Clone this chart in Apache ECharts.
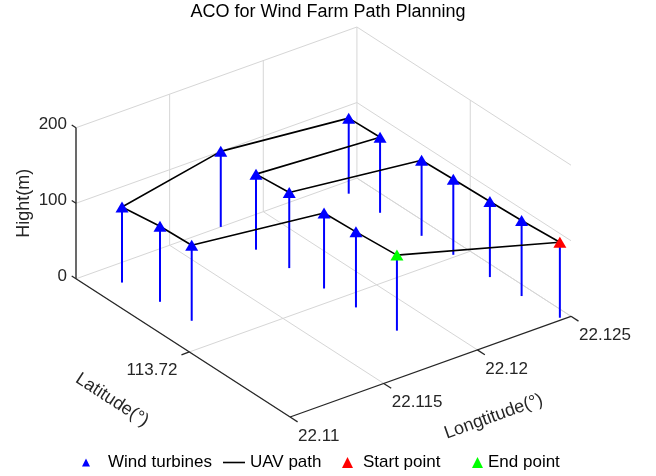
<!DOCTYPE html>
<html>
<head>
<meta charset="utf-8">
<script src="https://cdn.jsdelivr.net/npm/echarts@6/dist/echarts.min.js"></script>
<style>
  html, body { margin: 0; padding: 0; background: #ffffff; }
  #chart { width: 656px; height: 476px; }
</style>
</head>
<body>
<div id="chart"></div>
<script>
// Wind turbine sites (degrees) and hub heights (m); index 0 is the start, 15 the end
const turbineLat = [113.7239, 113.7225, 113.7213, 113.7199, 113.7187, 113.7181, 113.7169, 113.7172,
                    113.7160, 113.7155, 113.7163, 113.7176, 113.7188, 113.7194, 113.7206, 113.7221];
const turbineLon = [22.12454, 22.12438, 22.12430, 22.12423, 22.12415, 22.11789, 22.11773, 22.12395,
                    22.12389, 22.11773, 22.11138, 22.11166, 22.11174, 22.11800, 22.11809, 22.11826];
const turbineHeight = [100, 100, 100, 100, 100, 100, 100, 100, 100, 100, 100, 100, 100, 100, 100, 100];

// Visiting order of the UAV tour (closed loop back to the start)
const pathOrder = [0, 1, 2, 3, 4, 5, 6, 7, 8, 9, 10, 11, 12, 13, 14, 15, 0];
const startIndex = 0;
const endIndex = 15;

// Axis limits and ticks
const latRange = [113.7155, 113.7240];
const lonRange = [22.11, 22.125];
const heightRange = [0, 200];
const latTicks = [113.72];
const lonTicks = [22.11, 22.115, 22.12, 22.125];
const heightTicks = [0, 100, 200];

// ---- orthographic 3D view (azimuth / elevation) onto a flat plane ----
const VIEW = { az: 53.3, el: 28.8 };
const BOX = [1, 0.978, 0.482];       // plot-box aspect: lat : lon : height
const AZ = VIEW.az * Math.PI / 180, EL = VIEW.el * Math.PI / 180;

function project(lat, lon, h) {
  const X = (lat - latRange[0]) / (latRange[1] - latRange[0]) * BOX[0];
  const Y = (lon - lonRange[0]) / (lonRange[1] - lonRange[0]) * BOX[1];
  const Z = (h - heightRange[0]) / (heightRange[1] - heightRange[0]) * BOX[2];
  return [
    Math.cos(AZ) * X + Math.sin(AZ) * Y,
    -Math.sin(AZ) * Math.sin(EL) * X + Math.cos(AZ) * Math.sin(EL) * Y + Math.cos(EL) * Z
  ];
}

const latMin = latRange[0], latMax = latRange[1];
const lonMin = lonRange[0], lonMax = lonRange[1];
const hMin = heightRange[0], hMax = heightRange[1];
const latSpan = latMax - latMin, lonSpan = lonMax - lonMin;

// plane extent of the whole plot box
let pxMin = Infinity, pxMax = -Infinity, pyMin = Infinity, pyMax = -Infinity;
[latMin, latMax].forEach(a => [lonMin, lonMax].forEach(b => [hMin, hMax].forEach(c => {
  const p = project(a, b, c);
  pxMin = Math.min(pxMin, p[0]); pxMax = Math.max(pxMax, p[0]);
  pyMin = Math.min(pyMin, p[1]); pyMax = Math.max(pyMax, p[1]);
})));

function seg(list, p, q) {
  const a = project(p[0], p[1], p[2]);
  const b = project(q[0], q[1], q[2]);
  list.push([a[0], a[1], b[0], b[1]]);
}

// grid lines on the back walls and the floor
const gridSegs = [];
heightTicks.forEach(z => {
  seg(gridSegs, [latMin, lonMin, z], [latMin, lonMax, z]);
  seg(gridSegs, [latMin, lonMax, z], [latMax, lonMax, z]);
});
lonTicks.forEach(lon => {
  seg(gridSegs, [latMin, lon, hMin], [latMin, lon, hMax]);
  seg(gridSegs, [latMin, lon, hMin], [latMax, lon, hMin]);
});
latTicks.forEach(lat => {
  seg(gridSegs, [lat, lonMax, hMin], [lat, lonMax, hMax]);
  seg(gridSegs, [lat, lonMin, hMin], [lat, lonMax, hMin]);
});

// axis lines and tick marks
const axisSegs = [];
seg(axisSegs, [latMin, lonMin, hMin], [latMin, lonMin, hMax]);
seg(axisSegs, [latMin, lonMin, hMin], [latMax, lonMin, hMin]);
seg(axisSegs, [latMax, lonMin, hMin], [latMax, lonMax, hMin]);
heightTicks.forEach(z => seg(axisSegs, [latMin, lonMin, z], [latMin - 0.02 * latSpan, lonMin, z]));
latTicks.forEach(lat => seg(axisSegs, [lat, lonMin, hMin], [lat, lonMin - 0.028 * lonSpan, hMin]));
lonTicks.forEach(lon => seg(axisSegs, [latMax, lon, hMin], [latMax + 0.035 * latSpan, lon, hMin]));

// turbine towers
const stemSegs = [];
turbineLat.forEach((lat, i) => seg(stemSegs, [lat, turbineLon[i], 0], [lat, turbineLon[i], turbineHeight[i]]));

const tops = turbineLat.map((lat, i) => project(lat, turbineLon[i], turbineHeight[i]));
const turbinePts = tops.filter((p, i) => i !== startIndex && i !== endIndex);
const pathPts = pathOrder.map(i => tops[i]);

// text labels
const FONT = '"Liberation Sans", Arial, Helvetica, sans-serif';
const INK = '#262626';
const labels = [];
heightTicks.forEach(z => labels.push({ pos: project(latMin, lonMin, z), text: String(z),
  align: 'right', dx: -9, dy: -3, size: 17, rot: 0 }));
latTicks.forEach(lat => labels.push({ pos: project(lat, lonMin, hMin), text: String(lat),
  align: 'right', dx: -12, dy: 18, size: 17, rot: 0 }));
lonTicks.forEach(lon => labels.push({ pos: project(latMax, lon, hMin), text: String(lon),
  align: 'left', dx: 8, dy: 19, size: 17, rot: 0 }));

function dirAngle(p, q) {
  const a = project(p[0], p[1], p[2]), b = project(q[0], q[1], q[2]);
  return Math.atan2(b[1] - a[1], b[0] - a[0]);
}
labels.push({ pos: project(latMin, lonMin, (hMin + hMax) / 2), text: 'Hight(m)',
  align: 'center', dx: -52, dy: 0, size: 18, rot: Math.PI / 2 });
labels.push({ pos: project((latMin + latMax) / 2, lonMin, hMin), text: 'Latitude(°)',
  align: 'center', dx: -71, dy: 52, size: 18,
  rot: dirAngle([latMin, lonMin, hMin], [latMax, lonMin, hMin]) });
labels.push({ pos: project(latMax, (lonMin + lonMax) / 2, hMin), text: 'Longtitude(°)',
  align: 'center', dx: 63, dy: 50, size: 18,
  rot: dirAngle([latMax, lonMin, hMin], [latMax, lonMax, hMin]) });

function segmentSeries(name, data, color, width, z) {
  return {
    type: 'custom', name: name, data: data, z: z, silent: true, clip: false,
    encode: { x: [0, 2], y: [1, 3] },
    renderItem: function (params, api) {
      const a = api.coord([api.value(0), api.value(1)]);
      const b = api.coord([api.value(2), api.value(3)]);
      return {
        type: 'line',
        shape: { x1: a[0], y1: a[1], x2: b[0], y2: b[1] },
        style: { stroke: color, lineWidth: width }
      };
    }
  };
}

const chart = echarts.init(document.getElementById('chart'), null, { renderer: 'canvas' });
const legendText = { fontFamily: FONT, fontSize: 17, color: '#000000' };
chart.setOption({
  animation: false,
  backgroundColor: '#ffffff',
  textStyle: { fontFamily: FONT },
  title: {
    text: 'ACO for Wind Farm Path Planning',
    left: 'center', top: 3, padding: 0,
    textStyle: { fontFamily: FONT, fontSize: 18, fontWeight: 'normal', color: '#000000' }
  },
  grid: { left: 76, top: 27, width: 495, height: 390, containLabel: false },
  xAxis: { type: 'value', min: pxMin, max: pxMax, show: false },
  yAxis: { type: 'value', min: pyMin, max: pyMax, show: false },
  legend: [
    { data: ['Wind turbines'], left: 82, top: 454, padding: 0, selectedMode: false,
      itemWidth: 8, itemHeight: 8, textStyle: Object.assign({ padding: [0, 0, 0, 13] }, legendText) },
    { data: [{ name: 'UAV path', icon: 'rect', itemStyle: { color: '#000000' } }],
      left: 223, top: 454, padding: 0, selectedMode: false,
      itemWidth: 22, itemHeight: 1.6, textStyle: legendText },
    { data: ['Start point'], left: 342, top: 454, padding: 0, selectedMode: false,
      itemWidth: 11, itemHeight: 11, textStyle: Object.assign({ padding: [0, 0, 0, 5] }, legendText) },
    { data: ['End point'], left: 472, top: 454, padding: 0, selectedMode: false,
      itemWidth: 11, itemHeight: 11, textStyle: legendText }
  ],
  series: [
    segmentSeries('grid', gridSegs, '#d6d6d6', 1, 1),
    segmentSeries('axes', axisSegs, INK, 1.3, 2),
    segmentSeries('towers', stemSegs, '#0000ff', 2, 3),
    {
      type: 'line', name: 'UAV path', data: pathPts, z: 4, silent: true,
      symbol: 'none', lineStyle: { color: '#000000', width: 1.6 }, itemStyle: { color: '#000000' }
    },
    {
      type: 'scatter', name: 'Wind turbines', data: turbinePts, z: 5, silent: true,
      symbol: 'triangle', symbolSize: [13, 11], itemStyle: { color: '#0000ff', opacity: 1 }
    },
    {
      type: 'scatter', name: 'Start point', data: [tops[startIndex]], z: 6, silent: true,
      symbol: 'triangle', symbolSize: [13, 11], itemStyle: { color: '#ff0000', opacity: 1 }
    },
    {
      type: 'scatter', name: 'End point', data: [tops[endIndex]], z: 6, silent: true,
      symbol: 'triangle', symbolSize: [13, 11], itemStyle: { color: '#00ff00', opacity: 1 }
    },
    {
      type: 'custom', name: 'labels', z: 7, silent: true, clip: false,
      data: labels.map(l => l.pos),
      encode: { x: 0, y: 1 },
      renderItem: function (params, api) {
        const l = labels[params.dataIndex];
        const p = api.coord([api.value(0), api.value(1)]);
        return {
          type: 'text',
          x: p[0] + l.dx, y: p[1] + l.dy,
          rotation: l.rot,
          style: {
            text: l.text, fill: INK, font: l.size + 'px ' + FONT,
            align: l.align, verticalAlign: 'middle'
          }
        };
      }
    }
  ]
});
</script>
</body>
</html>
